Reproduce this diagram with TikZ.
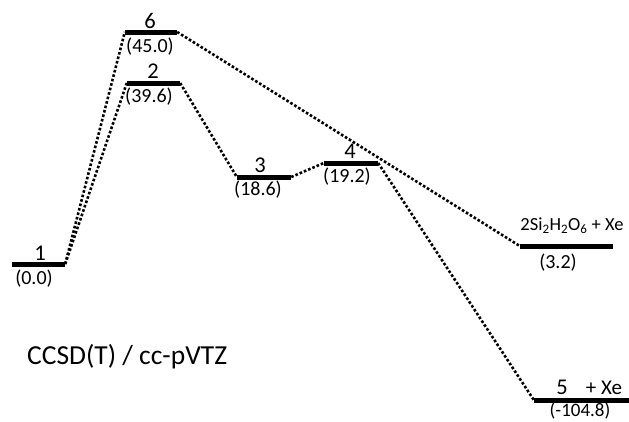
\documentclass[tikz,border=0pt]{standalone}
\usepackage{fontspec}
\setmainfont{Carlito}
\tikzset{
  level/.style={fill=black, inner sep=0pt, minimum height=5pt},
  route/.style={dotted, line width=2.6pt},
  lab/.style={inner sep=0pt, font=\fontsize{22.5}{26}\selectfont},
  val/.style={inner sep=0pt, font=\fontsize{20}{24}\selectfont},
}
\begin{document}
\begin{tikzpicture}[x=1pt, y=-1pt]
	\useasboundingbox (0, 0) rectangle (629, 421);

	% energy levels
	\node[level, minimum width=53pt] at (38.5, 264) (L1) {};
	\node[level, minimum width=52pt] at (151, 32) (L6) {};
	\node[level, minimum width=53pt] at (153.5, 83) (L2) {};
	\node[level, minimum width=54pt] at (264, 177) (L3) {};
	\node[level, minimum width=54pt] at (351, 163) (L4) {};
	\node[level, minimum width=93pt] at (566.5, 246) (LSi) {};
	\node[level, minimum width=95pt] at (581.5, 400) (L5) {};

	% labels
	\node[lab] at (40, 253) (n1) {1};
	\node[val] at (34, 279) (e1) {(0.0)};
	\node[lab] at (150, 21) (n6) {6};
	\node[val] at (150, 47) (e6) {(45.0)};
	\node[lab] at (153, 71) (n2) {2};
	\node[val] at (149, 97) (e2) {(39.6)};
	\node[lab] at (260, 165) (n3) {3};
	\node[val] at (258, 190) (e3) {(18.6)};
	\node[lab] at (350, 151) (n4) {4};
	\node[val] at (347, 177) (e4) {(19.2)};
	\node[val, font=\fontsize{18.5}{22}\selectfont] at (572, 226) (nSi) {2Si\textsubscript{2}H\textsubscript{2}O\textsubscript{6} + Xe};
	\node[val] at (558, 263) (eSi) {(3.2)};
	\node[lab] at (562, 387) (n5) {5};
	\node[val, font=\fontsize{21}{25}\selectfont] at (604, 388) (x5) {+ Xe};
	\node[val, font=\fontsize{19}{23}\selectfont] at (580, 410.5) (e5) {(-104.8)};

	\node[inner sep=0pt, anchor=base west, font=\fontsize{27.5}{32}\selectfont] at (27, 364) (method) {CCSD(T) / cc-pVTZ};

	% reaction paths
	\draw[route] (L1.east) -- (L6.west);
	\draw[route] (L1.east) -- (L2.west);
	\draw[route] (L6.east) -- (LSi.west);
	\draw[route] (L2.east) -- (L3.west);
	\draw[route] (L3.east) -- (L4.west);
	\draw[route] (L4.east) -- (L5.west);
\end{tikzpicture}
\end{document}
